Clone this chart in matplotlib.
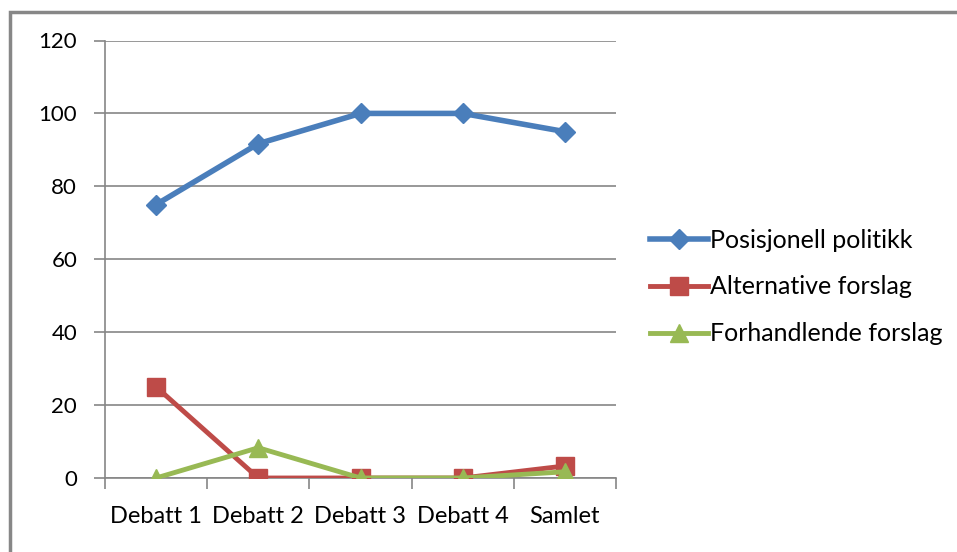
import matplotlib.pyplot as plt
from matplotlib.lines import Line2D

categories = ["Debatt 1", "Debatt 2", "Debatt 3", "Debatt 4", "Samlet"]
posisjonell = [75, 91.7, 100, 100, 95]
alternative = [25, 0, 0, 0, 3.3]
forhandlende = [0, 8.3, 0, 0, 1.7]
y_ticks = [0, 20, 40, 60, 80, 100, 120]

plt.rcParams['font.family'] = ['Lato', 'DejaVu Sans']

fig = plt.figure(figsize=(9.57, 5.52), dpi=100)
ax = fig.add_axes([105 / 957, 1 - 478 / 552, (616 - 105) / 957, (478 - 40.5) / 552])

# outer chart border: only the left and top edges are in view
bx, by = 10 / 957, 1 - 12 / 552
fig.add_artist(Line2D([bx, bx, 1.01], [-0.01, by, by], transform=fig.transFigure,
                      color='#878787', linewidth=2.5, solid_joinstyle='miter'))

x = range(len(categories))
ax.plot(x, posisjonell, color='#4A7EBB', linewidth=4, marker='D', markersize=10,
        label='Posisjonell politikk', zorder=3)
ax.plot(x, alternative, color='#BE4B48', linewidth=3.5, marker='s', markersize=13,
        label='Alternative forslag', zorder=3)
ax.plot(x, forhandlende, color='#98B954', linewidth=3.5, marker='^', markersize=13,
        label='Forhandlende forslag', zorder=4)

ax.set_xlim(-0.5, len(categories) - 0.5)
ax.set_ylim(0, 120)
ax.set_yticks(y_ticks)
ax.set_xticks(x)
ax.set_xticklabels(categories)
ax.set_xticks([i - 0.5 for i in range(len(categories) + 1)], minor=True)

ax.grid(axis='y', color='#868686', linewidth=1.2)
ax.set_axisbelow(True)
for s in ['top', 'right']:
    ax.spines[s].set_visible(False)
ax.spines['left'].set_color('#868686')
ax.spines['bottom'].set_color('#868686')
ax.spines['left'].set_linewidth(1.2)
ax.spines['bottom'].set_linewidth(1.2)

ax.tick_params(axis='y', length=8, width=1.2, color='#868686', labelsize=16, pad=12)
ax.tick_params(axis='x', which='major', length=0, labelsize=17, pad=20)
ax.tick_params(axis='x', which='minor', length=8, width=1.2, color='#868686')

leg = ax.legend(loc='center left', bbox_to_anchor=(650 / 957, 1 - 287 / 552),
                bbox_transform=fig.transFigure, frameon=False, fontsize=18,
                handlelength=2.3, handletextpad=0.1, labelspacing=0.95,
                borderaxespad=0, borderpad=0)

fig.savefig('out.png', dpi=100)
